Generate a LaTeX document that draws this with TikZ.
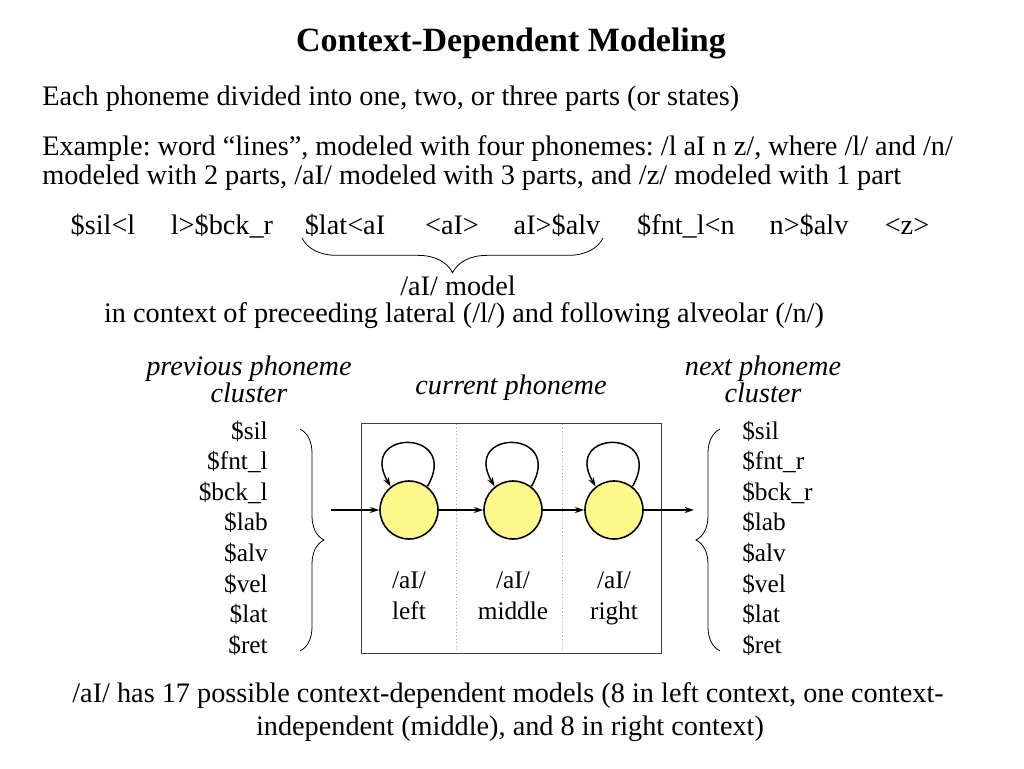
\documentclass[tikz,border=0pt]{standalone}
\usepackage{fontspec}
\setmainfont{Liberation Serif}
\usetikzlibrary{arrows.meta,decorations.pathreplacing}
\frenchspacing
\begin{document}
\begin{tikzpicture}[x=0.75pt,y=-0.75pt,
  txt/.style={inner sep=0pt,font=\fontsize{21.2}{25}\selectfont},
  ital/.style={txt,font=\fontsize{21.2}{25}\selectfont\itshape},
  lst/.style={inner sep=0pt,font=\fontsize{19}{22}\selectfont},
  state/.style={circle,draw,line width=1.2pt,fill=yellow!45,minimum size=43.5pt,inner sep=0pt},
  arr/.style={line width=1.1pt,-{Stealth[length=7pt,width=4.5pt]}},
  brc/.style={decorate,decoration={brace,amplitude=#1},line width=0.6pt}]
\useasboundingbox (0,0) rectangle (1024,768);
% title
\node[inner sep=0pt,font=\fontsize{25.5}{30}\selectfont\bfseries] (title) at (511,43) {Context-Dependent Modeling};
\node[txt,anchor=base west] (l1) at (42,105) {Each phoneme divided into one, two, or three parts (or states)};
\node[txt,anchor=base west] (l2) at (42,155) {Example: word “lines”, modeled with four phonemes: /l aI n z/, where /l/ and /n/};
\node[txt,anchor=base west] (l3) at (42,184) {modeled with 2 parts, /aI/ modeled with 3 parts, and /z/ modeled with 1 part};
% phone row
\node[txt,anchor=base] (p1) at (103,234) {\$sil<l};
\node[txt,anchor=base] (p2) at (222,234) {l>\$bck\_r};
\node[txt,anchor=base] (p3) at (345,234) {\$lat<aI};
\node[txt,anchor=base] (p4) at (452,234) {<aI>};
\node[txt,anchor=base] (p5) at (557,234) {aI>\$alv};
\node[txt,anchor=base] (p6) at (686,234) {\$fnt\_l<n};
\node[txt,anchor=base] (p7) at (809,234) {n>\$alv};
\node[txt,anchor=base] (p8) at (907,234) {<z>};
\coordinate (bra) at (603,238);
\coordinate (brb) at (302,238);
\draw[brc=26pt] (bra) -- (brb);
\node[txt,anchor=base] (model) at (458,295) {/aI/ model};
\node[txt,anchor=base] (ctx) at (464,322) {in context of preceeding lateral (/l/) and following alveolar (/n/)};
% headings
\node[ital,anchor=base] (prev1) at (249,375) {previous phoneme};
\node[ital,anchor=base] (prev2) at (249,402) {cluster};
\node[ital,anchor=base] (cur) at (511,394) {current phoneme};
\node[ital,anchor=base] (next1) at (763,375) {next phoneme};
\node[ital,anchor=base] (next2) at (763,402) {cluster};
% lists
\foreach \t [count=\i from 0] in {\$sil,\$fnt\_l,\$bck\_l,\$lab,\$alv,\$vel,\$lat,\$ret}
  \node[lst,anchor=base east] (L\i) at (268,{439+30.6*\i}) {\t};
\foreach \t [count=\i from 0] in {\$sil,\$fnt\_r,\$bck\_r,\$lab,\$alv,\$vel,\$lat,\$ret}
  \node[lst,anchor=base west] (R\i) at (742,{439+30.6*\i}) {\t};
\coordinate (lbt) at (300,429);
\coordinate (lbb) at (300,651);
\draw[brc=18pt] (lbt) -- (lbb);
\coordinate (rbt) at (720,429);
\coordinate (rbb) at (720,651);
\draw[brc=18pt] (rbb) -- (rbt);
% box
\draw[draw=black!75,line width=0.7pt] (361,423) rectangle (661,653);
\draw[black!35,dotted,line width=0.6pt] (456,424) -- (456,652);
\draw[black!35,dotted,line width=0.6pt] (562,424) -- (562,652);
% states
\node[state] (s1) at (409,510) {};
\node[state] (s2) at (513,510) {};
\node[state] (s3) at (614,510) {};
\coordinate (in) at (331,510);
\coordinate (out) at (694,510);
\draw[arr] (in) -- (s1);
\draw[arr] (s1) -- (s2);
\draw[arr] (s2) -- (s3);
\draw[arr] (s3) -- (out);
\foreach \s in {s1,s2,s3}
  \draw[arr] (\s.52) .. controls +(34,-58) and +(-34,-58) .. (\s.128);
\node[lst,anchor=base] (a1) at (409,588) {/aI/};
\node[lst,anchor=base] (b1) at (409,619) {left};
\node[lst,anchor=base] (a2) at (513,588) {/aI/};
\node[lst,anchor=base] (b2) at (513,619) {middle};
\node[lst,anchor=base] (a3) at (614,588) {/aI/};
\node[lst,anchor=base] (b3) at (614,619) {right};
% bottom
\node[txt,anchor=base] (f1) at (508,702) {/aI/ has 17 possible context-dependent models (8 in left context, one context-};
\node[txt,anchor=base] (f2) at (510,735) {independent (middle), and 8 in right context)};
\end{tikzpicture}
\end{document}
